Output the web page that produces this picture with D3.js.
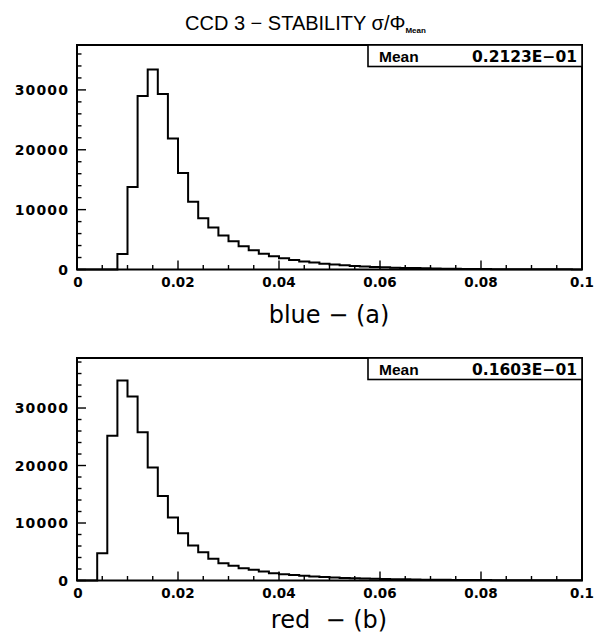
<!DOCTYPE html>
<html><head><meta charset="utf-8">
<script src="https://cdn.jsdelivr.net/npm/d3@7"></script>
<style>body{margin:0;background:#fff}svg{display:block}</style>
</head><body>
<svg id="c" width="594" height="634"></svg>
<script>
// ---- data ----
const binStart = 0, binWidth = 0.002, nBins = 50;
const blueCounts = [0,0,0,0,2600,13800,29000,33400,29300,21900,16100,11300,8560,7000,5700,4700,3870,3200,2650,2200,
  1880,1600,1350,1150,980,830,700,600,510,430,370,310,270,230,190,160,140,120,100,85,70,60,50,45,40,35,30,25,22,20];
const redCounts = [0,0,4740,25170,34800,32000,25800,19650,14700,10940,8200,6100,4900,3800,3000,2560,2150,1860,1570,1280,
  1100,950,820,700,600,520,450,390,340,300,260,230,200,175,150,130,115,100,90,80,70,62,55,48,42,37,33,30,27,25];
const xTickValues = [0, 0.02, 0.04, 0.06, 0.08, 0.1];
const xTickLabels = ["0", "0.02", "0.04", "0.06", "0.08", "0.1"];
const yTickValues = [0, 10000, 20000, 30000];
const yTickLabels = ["0", "10000", "20000", "30000"];
const panels = [
  {counts: blueCounts, mean: "0.2123E−01", title: "blue − (a)", ymax: 37500, top: 45, bottom: 269.5, titleY: 323},
  {counts: redCounts, mean: "0.1603E−01", title: "red\u00a0 − (b)", ymax: 38700, top: 358, bottom: 580.5, titleY: 628}
];

const svg = d3.select("#c");
const left = 77, right = 582;

// title
const t = svg.append("text").attr("x", 185).attr("y", 30)
  .attr("font-family", "Liberation Sans, Arial, sans-serif").attr("font-size", 20).attr("fill", "#000");
t.append("tspan").text("CCD 3 − STABILITY σ/Φ");
t.append("tspan").attr("font-size", 8).attr("font-weight", "bold").attr("dy", 3).text("Mean");

panels.forEach(p => {
  const x = d3.scaleLinear().domain([0, 0.1]).range([left, right]);
  const y = d3.scaleLinear().domain([0, p.ymax]).range([p.bottom, p.top]);
  const g = svg.append("g");

  // histogram outline
  const pts = [[binStart, 0]];
  p.counts.forEach((v, i) => {
    const x0 = binStart + i * binWidth, x1 = x0 + binWidth;
    pts.push([x0, v], [x1, v]);
  });
  const line = d3.line().x(d => x(d[0])).y(d => y(d[1]));
  g.append("path").attr("d", line(pts)).attr("fill", "none").attr("stroke", "#000").attr("stroke-width", 2);

  // minor/major x ticks (inward)
  const xMinor = d3.range(0, 0.1001, 0.005);
  g.selectAll(null).data(xMinor).join("line")
    .attr("x1", d => x(d)).attr("x2", d => x(d))
    .attr("y1", p.bottom).attr("y2", d => p.bottom - (Math.abs(d / 0.02 - Math.round(d / 0.02)) < 1e-6 ? 9 : 4.5))
    .attr("stroke", "#000").attr("stroke-width", 1.4);
  // y ticks
  const yMinor = d3.range(0, p.ymax, 2000);
  g.selectAll(null).data(yMinor).join("line")
    .attr("y1", d => y(d)).attr("y2", d => y(d))
    .attr("x1", left).attr("x2", d => left + (d % 10000 === 0 ? 9 : 4.5))
    .attr("stroke", "#000").attr("stroke-width", 1.4);

  // frame
  g.append("rect").attr("x", left).attr("y", p.top).attr("width", right - left).attr("height", p.bottom - p.top)
    .attr("fill", "none").attr("stroke", "#000").attr("stroke-width", 2);

  // tick labels
  g.selectAll(null).data(xTickValues).join("text")
    .attr("x", d => x(d) + (d === 0 ? 1 : 0)).attr("y", p.bottom + 17.5)
    .attr("text-anchor", "middle").attr("font-family", "DejaVu Sans, sans-serif")
    .attr("font-weight", "bold").attr("font-size", 13.5)
    .text((d, i) => xTickLabels[i]);
  g.selectAll(null).data(yTickValues).join("text")
    .attr("x", 69).attr("y", d => y(d) + 5)
    .attr("text-anchor", "end").attr("font-family", "DejaVu Sans, sans-serif")
    .attr("font-weight", "bold").attr("font-size", 14).attr("letter-spacing", 1.1)
    .text((d, i) => yTickLabels[i]);

  // stats box
  g.append("rect").attr("x", 368).attr("y", p.top).attr("width", right - 368).attr("height", 21.5)
    .attr("fill", "#fff").attr("stroke", "#000").attr("stroke-width", 1.6);
  g.append("text").attr("x", 379).attr("y", p.top + 17)
    .attr("font-family", "Liberation Sans, Arial, sans-serif").attr("font-weight", "bold").attr("font-size", 15.5)
    .text("Mean");
  g.append("text").attr("x", 577).attr("y", p.top + 17).attr("text-anchor", "end")
    .attr("font-family", "DejaVu Sans, sans-serif").attr("font-weight", "bold").attr("font-size", 15.5)
    .text(p.mean);

  // axis title
  g.append("text").attr("x", 329).attr("y", p.titleY).attr("text-anchor", "middle")
    .attr("font-family", "DejaVu Sans, sans-serif").attr("font-size", 24)
    .text(p.title);
});
</script>
</body></html>
